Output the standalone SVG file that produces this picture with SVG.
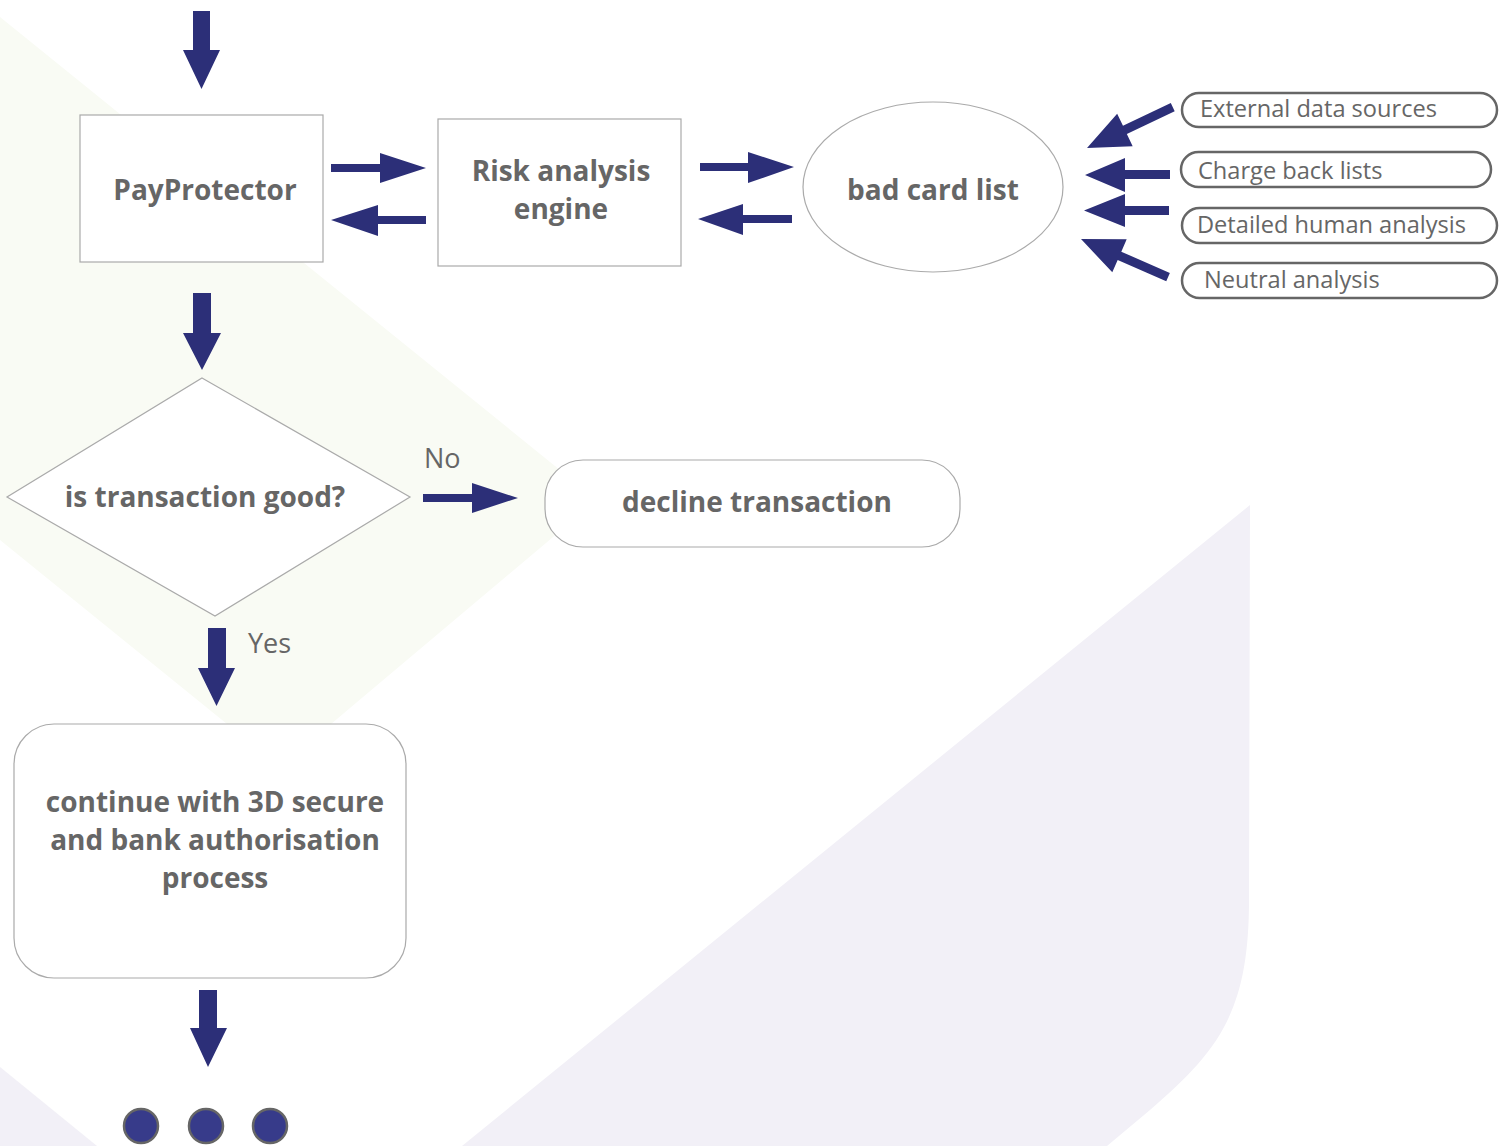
<svg xmlns="http://www.w3.org/2000/svg" width="1510" height="1146" viewBox="0 0 1510 1146">
<style>
.bg{fill:#ffffff}
.green{fill:#f9fbf4}
.lav{fill:#f2f0f7}
.box{fill:#ffffff;stroke:#aaaaaa;stroke-width:1.2}
.pill{fill:#ffffff;stroke:#666666;stroke-width:2.5}
.arr{fill:#2c2f78}
.dot{fill:#373b8a;stroke:#666666;stroke-width:2.5}
.t{font-family:"Open Sans","Liberation Sans",sans-serif;font-weight:bold;font-size:28px;fill:#666666;text-anchor:middle}
.r{font-family:"Open Sans","Liberation Sans",sans-serif;font-size:23.6px;fill:#666666}
.lbl{font-family:"Open Sans","Liberation Sans",sans-serif;font-size:27px;fill:#666666}
</style>
<rect class="bg" x="0" y="0" width="1510" height="1146"/>
<g id="background">
<polygon class="green" points="0,17 597,500 280,767 0,540"/>
<path class="lav" d="M1250,505 L462,1146 L1107,1146 L1150,1110 C1220,1050 1249,1010 1249,900 Z"/>
<polygon class="lav" points="0,1067 97,1146 0,1146"/>
</g>
<g id="connectors">
<polygon class="arr" points="193,11 210,11 210,50 220,50 201.5,89 183,50 193,50"/>
<polygon class="arr" points="331,164 380,164 380,153 426,168 380,183 380,172 331,172"/>
<polygon class="arr" points="426,216 378,216 378,205 331,220 378,236 378,224 426,224"/>
<polygon class="arr" points="700,163 748,163 748,152 794,167 748,183 748,171 700,171"/>
<polygon class="arr" points="792,215 743,215 743,204 698,219 743,235 743,223 792,223"/>
<polygon class="arr" points="0,0 42,-18 42,-4.5 95,-4.5 95,4.5 42,4.5 42,18" transform="translate(1087,148) rotate(-25.5)"/>
<polygon class="arr" points="1170,170 1125,170 1125,158 1085,175 1125,192 1125,179 1170,179"/>
<polygon class="arr" points="1169,206 1125,206 1125,194 1084,210.5 1125,227 1125,215 1169,215"/>
<polygon class="arr" points="0,0 42,-18 42,-4.5 95,-4.5 95,4.5 42,4.5 42,18" transform="translate(1081,239) rotate(23.6)"/>
<polygon class="arr" points="193,293 211,293 211,333 221,333 202,370 183,333 193,333"/>
<polygon class="arr" points="423,494 472,494 472,483 518,498 472,513 472,502 423,502"/>
<polygon class="arr" points="208,628 226,628 226,668 235,668 216.5,706 198,668 208,668"/>
<polygon class="arr" points="199,990 217,990 217,1028 227,1028 208,1067 190,1028 199,1028"/>
<text class="lbl" x="424" y="468">No</text>
<text class="lbl" x="248" y="653">Yes</text>
</g>
<g id="payprotector">
<rect class="box" x="80" y="115" width="243" height="147"/>
<text class="t" x="205" y="200">PayProtector</text>
</g>
<g id="risk-engine">
<rect class="box" x="438" y="119" width="243" height="147"/>
<text class="t" x="561" y="181">Risk analysis</text>
<text class="t" x="561" y="219">engine</text>
</g>
<g id="bad-card-list">
<ellipse class="box" cx="933" cy="187" rx="130" ry="85"/>
<text class="t" x="933" y="200">bad card list</text>
</g>
<g id="external-data">
<rect class="pill" x="1182" y="93" width="315" height="34" rx="17"/>
<text class="r" x="1200" y="117">External data sources</text>
</g>
<g id="charge-back">
<rect class="pill" x="1181" y="152" width="310" height="35" rx="17.5"/>
<text class="r" x="1198" y="179">Charge back lists</text>
</g>
<g id="detailed-human">
<rect class="pill" x="1182" y="208" width="315" height="35" rx="17.5"/>
<text class="r" x="1197" y="233">Detailed human analysis</text>
</g>
<g id="neutral">
<rect class="pill" x="1182" y="263" width="315" height="35" rx="17.5"/>
<text class="r" x="1204" y="288">Neutral analysis</text>
</g>
<g id="decision">
<polygon class="box" points="202,378 410,497 215,616 7,497"/>
<text class="t" x="205" y="507" font-size="27">is transaction good?</text>
</g>
<g id="decline">
<rect class="box" x="545" y="460" width="415" height="87" rx="38"/>
<text class="t" x="757" y="512" font-size="27">decline transaction</text>
</g>
<g id="continue">
<rect class="box" x="14" y="724" width="392" height="254" rx="40"/>
<text class="t" x="215" y="812" font-size="27">continue with 3D secure</text>
<text class="t" x="215" y="850" font-size="27">and bank authorisation</text>
<text class="t" x="215" y="888" font-size="27">process</text>
</g>
<g id="more">
<circle class="dot" cx="141" cy="1126" r="17"/>
<circle class="dot" cx="206" cy="1126" r="17"/>
<circle class="dot" cx="270" cy="1126" r="17"/>
</g>
</svg>
